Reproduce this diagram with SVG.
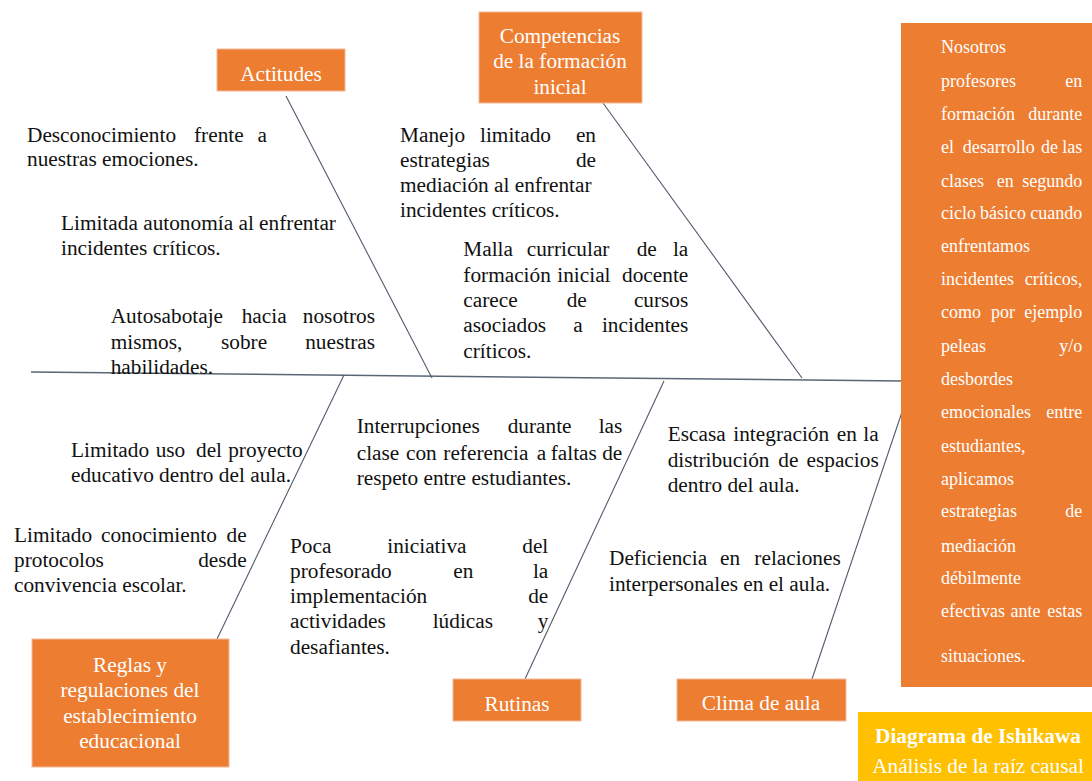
<svg xmlns="http://www.w3.org/2000/svg" width="1092" height="781" viewBox="0 0 1092 781">
<style>
.t{font-family:"Liberation Serif","Times New Roman",serif;font-size:21.3px;fill:#111}
.w{font-family:"Liberation Serif","Times New Roman",serif;font-size:21.3px;fill:#fff;text-anchor:middle}
.r{font-family:"Liberation Serif","Times New Roman",serif;font-size:18px;fill:#fff}
.e{text-anchor:end}
.box{fill:#ED7D31;stroke:#F4B99A;stroke-width:1}
.ln{stroke:#4F5B6B;stroke-width:1.1;fill:none}
</style>
<rect width="1092" height="781" fill="#fff"/>
<g id="connectors">
<line class="ln" x1="31" y1="372" x2="902" y2="381" style="stroke-width:1.5;stroke:#5A6676"/>
<line class="ln" x1="286" y1="96" x2="432" y2="378"/>
<line class="ln" x1="603" y1="103" x2="802" y2="378"/>
<line class="ln" x1="217" y1="639" x2="344" y2="375"/>
<line class="ln" x1="525" y1="679" x2="664" y2="381"/>
<line class="ln" x1="812" y1="679" x2="902" y2="412"/>
</g>
<g id="actitudes"><rect class="box" x="217" y="49" width="128" height="42"/><text class="w" x="281" y="81">Actitudes</text></g>
<g id="competencias"><rect class="box" x="479" y="12" width="163" height="91"/><text class="w"><tspan x="560" y="43.3">Competencias</tspan><tspan x="560" y="68.3">de la formación</tspan><tspan x="560" y="94">inicial</tspan></text></g>
<g id="reglas"><rect class="box" x="32" y="639" width="197" height="128"/><text class="w"><tspan x="130" y="671.7">Reglas y</tspan><tspan x="130" y="696.7">regulaciones del</tspan><tspan x="130" y="722.7">establecimiento</tspan><tspan x="130" y="748.3">educacional</tspan></text></g>
<g id="rutinas"><rect class="box" x="453" y="679" width="128" height="42"/><text class="w" x="517" y="711">Rutinas</text></g>
<g id="clima"><rect class="box" x="677" y="679" width="169" height="42"/><text class="w" x="761" y="710">Clima de aula</text></g>
<g id="problema"><rect x="901" y="23" width="191" height="664" fill="#ED7D31"/>
<text class="r">
<tspan x="941" y="53.3">Nosotros</tspan>
<tspan x="941" y="86.7">profesores</tspan><tspan class="e" x="1086.7">en</tspan>
<tspan x="941" y="120">formación</tspan><tspan class="e" x="1086.7">durante</tspan>
<tspan x="941" y="153.3">el</tspan><tspan x="962.7">desarrollo</tspan><tspan x="1041">de</tspan><tspan class="e" x="1086.7">las</tspan>
<tspan x="941" y="186.7">clases</tspan><tspan x="996.7">en</tspan><tspan class="e" x="1086.7">segundo</tspan>
<tspan x="941" y="219.3">ciclo</tspan><tspan x="980">básico</tspan><tspan class="e" x="1086.7">cuando</tspan>
<tspan x="941" y="251.7">enfrentamos</tspan>
<tspan x="941" y="285">incidentes</tspan><tspan class="e" x="1086.7">críticos,</tspan>
<tspan x="941" y="318.3">como</tspan><tspan x="991">por</tspan><tspan class="e" x="1086.7">ejemplo</tspan>
<tspan x="941" y="351.7">peleas</tspan><tspan class="e" x="1086.7">y/o</tspan>
<tspan x="941" y="385">desbordes</tspan>
<tspan x="941" y="418.3">emocionales</tspan><tspan class="e" x="1086.7">entre</tspan>
<tspan x="941" y="451.7">estudiantes,</tspan>
<tspan x="941" y="485">aplicamos</tspan>
<tspan x="941" y="517.3">estrategias</tspan><tspan class="e" x="1086.7">de</tspan>
<tspan x="941" y="551.7">mediación</tspan>
<tspan x="941" y="584.3">débilmente</tspan>
<tspan x="941" y="616.7">efectivas</tspan><tspan x="1010.5">ante</tspan><tspan class="e" x="1086.7">estas</tspan>
<tspan x="941" y="661.7">situaciones.</tspan>
</text></g>
<g id="titulo"><rect x="858" y="712" width="234" height="69" fill="#FFC000"/>
<text class="w" x="978" y="743.3" font-weight="bold">Diagrama de Ishikawa</text>
<text class="w" x="978" y="772.7">Análisis de la raíz causal</text></g>
<g id="causa-a1"><text class="t"><tspan x="27" y="141.5">Desconocimiento</tspan><tspan x="194">frente</tspan><tspan class="e" x="267">a</tspan><tspan x="27" y="166">nuestras emociones.</tspan></text></g>
<g id="causa-a2"><text class="t"><tspan x="61" y="230">Limitada autonomía al enfrentar</tspan><tspan x="61" y="255">incidentes críticos.</tspan></text></g>
<g id="causa-a3"><text class="t"><tspan x="110.7" y="323.3">Autosabotaje</tspan><tspan x="241.7">hacia</tspan><tspan class="e" x="375">nosotros</tspan><tspan x="110.7" y="349.3">mismos,</tspan><tspan x="221">sobre</tspan><tspan class="e" x="375">nuestras</tspan><tspan x="110.7" y="374.3">habilidades.</tspan></text></g>
<g id="causa-c1"><text class="t"><tspan x="400" y="141.7">Manejo</tspan><tspan x="480">limitado</tspan><tspan class="e" x="596">en</tspan><tspan x="400" y="166.7">estrategias</tspan><tspan class="e" x="596">de</tspan><tspan x="400" y="191.7">mediación al enfrentar</tspan><tspan x="400" y="216.7">incidentes críticos.</tspan></text></g>
<g id="causa-c2"><text class="t"><tspan x="463.3" y="256">Malla</tspan><tspan x="526.7">curricular</tspan><tspan x="636.7">de</tspan><tspan class="e" x="688.3">la</tspan><tspan x="463.3" y="281.7">formación</tspan><tspan x="557.3">inicial</tspan><tspan class="e" x="688.3">docente</tspan><tspan x="463.3" y="306.7">carece</tspan><tspan x="566.7">de</tspan><tspan class="e" x="688.3">cursos</tspan><tspan x="463.3" y="332.3">asociados</tspan><tspan x="573.3">a</tspan><tspan class="e" x="688.3">incidentes</tspan><tspan x="463.3" y="357.7">críticos.</tspan></text></g>
<g id="causa-r1"><text class="t"><tspan x="71" y="457.3">Limitado</tspan><tspan x="155.7">uso</tspan><tspan x="196">del</tspan><tspan class="e" x="302.7">proyecto</tspan><tspan x="71" y="481.7">educativo dentro del aula.</tspan></text></g>
<g id="causa-r2"><text class="t"><tspan x="14" y="541.7">Limitado</tspan><tspan x="101">conocimiento</tspan><tspan class="e" x="246.7">de</tspan><tspan x="14" y="566.7">protocolos</tspan><tspan class="e" x="246.7">desde</tspan><tspan x="14" y="592.3">convivencia escolar.</tspan></text></g>
<g id="causa-u1"><text class="t"><tspan x="356.7" y="433.3">Interrupciones</tspan><tspan x="507.7">durante</tspan><tspan class="e" x="622.3">las</tspan><tspan x="356.7" y="460">clase</tspan><tspan x="406">con</tspan><tspan x="443.3">referencia</tspan><tspan x="536.7">a</tspan><tspan x="550.7">faltas</tspan><tspan class="e" x="622.3">de</tspan><tspan x="356.7" y="485">respeto entre estudiantes.</tspan></text></g>
<g id="causa-u2"><text class="t"><tspan x="290" y="552.7">Poca</tspan><tspan x="387.3">iniciativa</tspan><tspan class="e" x="548.3">del</tspan><tspan x="290" y="578.3">profesorado</tspan><tspan x="453.3">en</tspan><tspan class="e" x="548.3">la</tspan><tspan x="290" y="602.7">implementación</tspan><tspan class="e" x="548.3">de</tspan><tspan x="290" y="628.3">actividades</tspan><tspan x="432.7">lúdicas</tspan><tspan class="e" x="548.3">y</tspan><tspan x="290" y="654">desafiantes.</tspan></text></g>
<g id="causa-k1"><text class="t"><tspan x="667.7" y="440.7">Escasa</tspan><tspan x="733.3">integración</tspan><tspan x="836.7">en</tspan><tspan class="e" x="878.7">la</tspan><tspan x="667.7" y="466.7">distribución</tspan><tspan x="778.3">de</tspan><tspan class="e" x="878.7">espacios</tspan><tspan x="667.7" y="491.7">dentro del aula.</tspan></text></g>
<g id="causa-k2"><text class="t"><tspan x="609" y="565">Deficiencia</tspan><tspan x="720">en</tspan><tspan class="e" x="840.7">relaciones</tspan><tspan x="609" y="590.7">interpersonales en el aula.</tspan></text></g>
</svg>
